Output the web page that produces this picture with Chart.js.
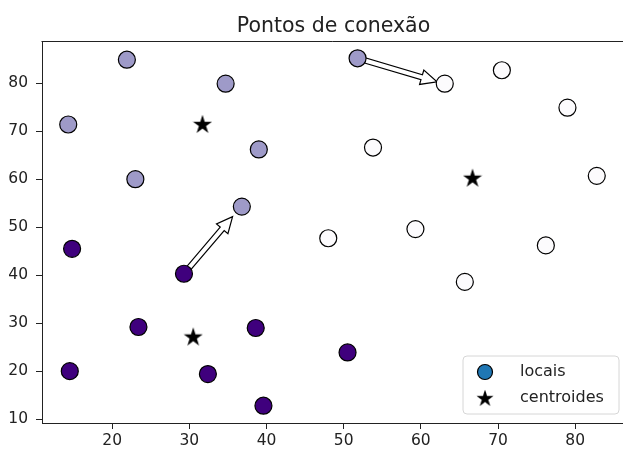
<!DOCTYPE html>
<html>
<head>
<meta charset="utf-8">
<script src="https://cdn.jsdelivr.net/npm/chart.js@4.4.1/dist/chart.umd.min.js"></script>
<style>
html, body { margin: 0; padding: 0; background: #fff; overflow: hidden; }
#wrap { width: 623px; height: 452px; }
</style>
</head>
<body>
<div id="wrap"><canvas id="chart" width="623" height="452"></canvas></div>
<script>
// =============================
// DATA
// =============================
const titulo = "Pontos de conexão";
const legendaLabels = ["locais", "centroides"];

// locais (x, y) + grupo (cluster)
const locaisX = [21.9, 34.7, 14.3, 51.8, 39.0, 23.0, 36.8,
                 14.8, 29.3, 23.4, 38.6, 50.5, 14.5, 32.4, 39.6,
                 63.1, 70.5, 79.0, 53.8, 82.8, 48.0, 59.3, 76.2, 65.7];
const locaisY = [84.9, 79.9, 71.4, 85.2, 66.2, 60.0, 54.3,
                 45.5, 40.3, 29.2, 29.0, 23.9, 20.0, 19.4, 12.8,
                 79.9, 82.7, 74.9, 66.6, 60.7, 47.7, 49.6, 46.2, 38.6];
const grupos = [1, 1, 1, 1, 1, 1, 1,
                2, 2, 2, 2, 2, 2, 2, 2,
                0, 0, 0, 0, 0, 0, 0, 0, 0];

const centroidesX = [31.7, 66.7, 30.5];
const centroidesY = [71.5, 60.3, 27.2];

// setas (de -> para), em coordenadas de dados
const setaDeX = [29.3, 51.8];
const setaDeY = [40.3, 85.2];
const setaParaX = [35.6, 62.1];
const setaParaY = [52.2, 80.3];

const xTicks = [20, 30, 40, 50, 60, 70, 80];
const yTicks = [10, 20, 30, 40, 50, 60, 70, 80];
const xLimites = [10.9, 86.2];
const yLimites = [9.2, 88.8];

// =============================
// STYLE
// =============================
const coresGrupo = ["#fcfbfd", "#9e9ac8", "#3f007d"];
const FONT = "DejaVu Sans";
const INK = "#222";

function makeStar(size, color) {
  let c = document.createElement("canvas");
  c.width = size; c.height = size;
  let g = c.getContext("2d");
  let cx = size / 2, cy = size / 2 + size * 0.04;
  let R = size / 2, r = R * 0.382;
  g.beginPath();
  for (let i = 0; i < 10; i++) {
    let ang = -Math.PI / 2 + i * Math.PI / 5;
    let rad = i % 2 === 0 ? R : r;
    let px = cx + rad * Math.cos(ang), py = cy + rad * Math.sin(ang);
    if (i === 0) g.moveTo(px, py); else g.lineTo(px, py);
  }
  g.closePath();
  g.fillStyle = color;
  g.fill();
  return c;
}
const starImg = makeStar(20, "#000");

function drawArrow(ctx, x1, y1, x2, y2) {
  let dx = x2 - x1, dy = y2 - y1;
  let len = Math.hypot(dx, dy);
  let ux = dx / len, uy = dy / len;
  let nx = -uy, ny = ux;
  let headLen = 16, sw = 2.6, hw = 7.5;
  let bx = x2 - ux * headLen, by = y2 - uy * headLen;
  ctx.beginPath();
  ctx.moveTo(x1 + nx * sw, y1 + ny * sw);
  ctx.lineTo(bx + nx * sw, by + ny * sw);
  ctx.lineTo(bx + nx * hw, by + ny * hw);
  ctx.lineTo(x2, y2);
  ctx.lineTo(bx - nx * hw, by - ny * hw);
  ctx.lineTo(bx - nx * sw, by - ny * sw);
  ctx.lineTo(x1 - nx * sw, y1 - ny * sw);
  ctx.closePath();
  ctx.fillStyle = "#fff";
  ctx.fill();
  ctx.strokeStyle = "#000";
  ctx.lineWidth = 1.2;
  ctx.lineJoin = "miter";
  ctx.stroke();
}

// =============================
// PLUGIN: title, top spine, arrows, legend
// =============================
const extras = {
  id: "extras",
  beforeDatasetsDraw(chart) {
    let ctx = chart.ctx;
    let xs = chart.scales.x, ys = chart.scales.y;
    ctx.save();
    for (let i = 0; i < setaDeX.length; i++) {
      drawArrow(ctx,
        xs.getPixelForValue(setaDeX[i]), ys.getPixelForValue(setaDeY[i]),
        xs.getPixelForValue(setaParaX[i]), ys.getPixelForValue(setaParaY[i]));
    }
    ctx.restore();
  },
  afterDraw(chart) {
    let ctx = chart.ctx;
    let a = chart.chartArea;
    ctx.save();

    // top spine
    ctx.strokeStyle = INK;
    ctx.lineWidth = 1;
    ctx.beginPath();
    ctx.moveTo(a.left - 0.5, a.top + 0.5);
    ctx.lineTo(a.right, a.top + 0.5);
    ctx.stroke();

    // title (centred over axes; the right spine sits just off the canvas)
    ctx.fillStyle = INK;
    ctx.font = "20.5px '" + FONT + "'";
    ctx.textAlign = "center";
    ctx.textBaseline = "alphabetic";
    ctx.fillText(titulo, (a.left + a.right + 2) / 2, 32);

    // legend
    let bw = 156, bh = 58;
    let bx = a.right - bw - 4, by = a.bottom - bh - 9;
    ctx.beginPath();
    ctx.roundRect(bx, by, bw, bh, 4);
    ctx.fillStyle = "rgba(255,255,255,0.8)";
    ctx.fill();
    ctx.strokeStyle = "#d6d6d6";
    ctx.lineWidth = 1;
    ctx.stroke();

    let mx = bx + 22;
    let y1 = by + 16, y2 = by + 42;
    ctx.beginPath();
    ctx.arc(mx, y1, 7.5, 0, Math.PI * 2);
    ctx.fillStyle = "#1f77b4";
    ctx.fill();
    ctx.strokeStyle = "#000";
    ctx.lineWidth = 1.2;
    ctx.stroke();
    ctx.drawImage(starImg, mx - 9, y2 - 9, 18, 18);

    ctx.fillStyle = INK;
    ctx.font = "16px '" + FONT + "'";
    ctx.textAlign = "left";
    ctx.textBaseline = "middle";
    ctx.fillText(legendaLabels[0], bx + 57, y1);
    ctx.fillText(legendaLabels[1], bx + 57, y2);
    ctx.restore();
  }
};

// =============================
// CHART
// =============================
let pontos = locaisX.map((x, i) => ({ x: x, y: locaisY[i] }));
let centros = centroidesX.map((x, i) => ({ x: x, y: centroidesY[i] }));

new Chart(document.getElementById("chart"), {
  type: "scatter",
  data: {
    datasets: [
      {
        label: legendaLabels[1],
        data: centros,
        pointStyle: starImg,
        pointRadius: 10,
        pointHoverRadius: 10
      },
      {
        label: legendaLabels[0],
        data: pontos,
        backgroundColor: grupos.map(g => coresGrupo[g]),
        borderColor: "#000",
        borderWidth: 1.2,
        pointRadius: 8.5,
        pointHoverRadius: 8.5
      }
    ]
  },
  options: {
    responsive: false,
    animation: false,
    events: [],
    layout: { autoPadding: false, padding: { top: 41, left: 0, right: 0, bottom: 0 } },
    plugins: {
      legend: { display: false },
      title: { display: false },
      tooltip: { enabled: false }
    },
    scales: {
      x: {
        type: "linear",
        min: xLimites[0],
        max: xLimites[1],
        afterBuildTicks: s => { s.ticks = xTicks.map(v => ({ value: v })); },
        afterFit: s => { s.height = 29; s.paddingLeft = 0; s.paddingRight = 0; },
        grid: { drawOnChartArea: false, drawTicks: true, tickLength: 6, color: INK },
        border: { display: true, color: INK, width: 1 },
        ticks: { color: INK, font: { family: FONT, size: 15.5 }, padding: 3, maxRotation: 0, autoSkip: false }
      },
      y: {
        type: "linear",
        min: yLimites[0],
        max: yLimites[1],
        afterBuildTicks: s => { s.ticks = yTicks.map(v => ({ value: v })); },
        afterFit: s => { s.width = 42; s.paddingTop = 0; s.paddingBottom = 0; },
        grid: { drawOnChartArea: false, drawTicks: true, tickLength: 6, color: INK },
        border: { display: true, color: INK, width: 1 },
        ticks: { color: INK, font: { family: FONT, size: 15.5 }, padding: 8, autoSkip: false }
      }
    }
  },
  plugins: [extras]
});
</script>
</body>
</html>
